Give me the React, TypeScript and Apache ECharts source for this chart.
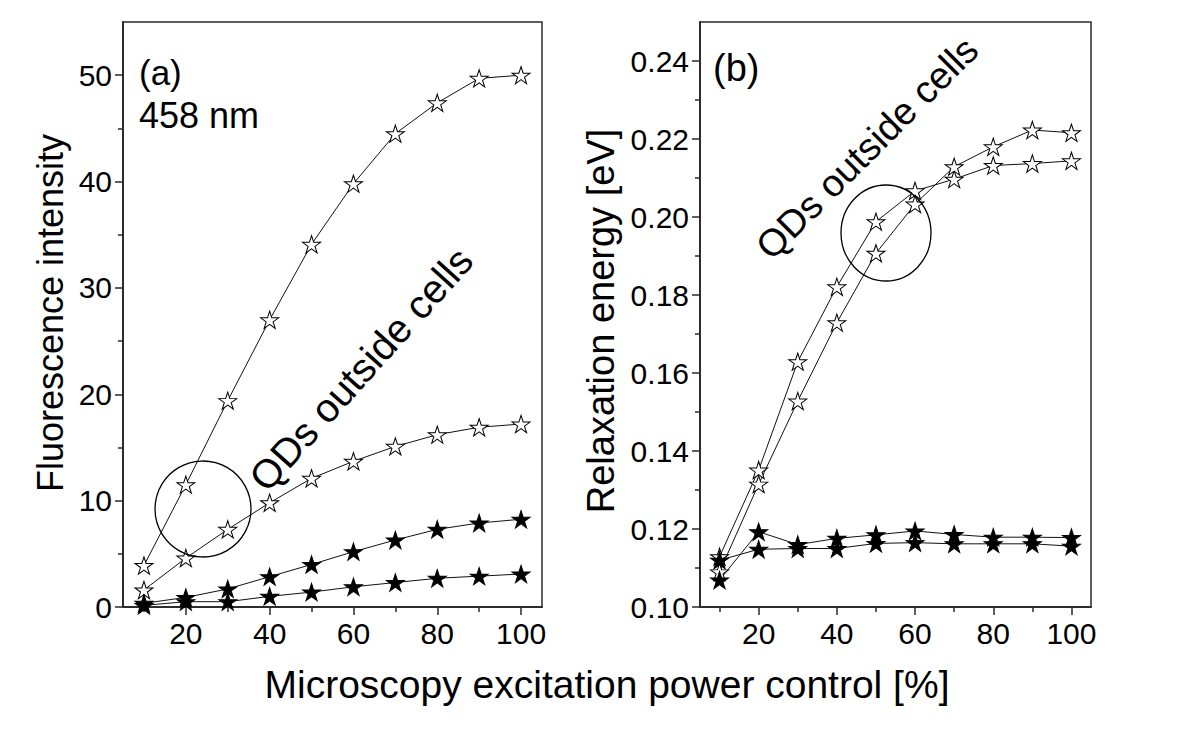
import React, { useEffect, useRef } from "react";
import * as echarts from "echarts";

// ---- data ----
const powerPct = [10, 20, 30, 40, 50, 60, 70, 80, 90, 100];

// (a) Fluorescence intensity
const fluorOpenHigh = [3.9, 11.5, 19.4, 27.0, 34.1, 39.8, 44.5, 47.4, 49.7, 50.0];
const fluorOpenLow = [1.6, 4.6, 7.3, 9.8, 12.1, 13.7, 15.1, 16.2, 16.9, 17.2];
const fluorFilledHigh = [0.35, 0.9, 1.7, 2.85, 4.0, 5.2, 6.3, 7.3, 7.9, 8.25];
const fluorFilledLow = [0.15, 0.5, 0.5, 1.0, 1.4, 1.9, 2.3, 2.7, 2.9, 3.1];

// (b) Relaxation energy [eV]
const relaxOpenA = [0.1129, 0.1351, 0.1629, 0.1821, 0.1988, 0.2067, 0.2097, 0.2132, 0.2137, 0.2144];
const relaxOpenB = [0.1090, 0.1315, 0.1528, 0.1729, 0.1907, 0.2033, 0.2129, 0.2180, 0.2223, 0.2216];
const relaxFilledA = [0.1069, 0.1193, 0.1160, 0.1176, 0.1185, 0.1195, 0.1186, 0.1179, 0.1179, 0.1178];
const relaxFilledB = [0.1120, 0.1148, 0.1150, 0.1150, 0.1163, 0.1165, 0.1162, 0.1162, 0.1162, 0.1156];

// ticks
const xMajorTicks = [20, 40, 60, 80, 100];
const xMinorTicks = [10, 30, 50, 70, 90];
const yaMajorTicks = [0, 10, 20, 30, 40, 50];
const yaMinorTicks = [5, 15, 25, 35, 45];
const ybMajorTicks = [0.10, 0.12, 0.14, 0.16, 0.18, 0.20, 0.22, 0.24];
const ybMinorTicks = [0.11, 0.13, 0.15, 0.17, 0.19, 0.21, 0.23];

const FONT = "'Liberation Sans', Arial, Helvetica, sans-serif";
const STAR =
  "path://M50,0 L61.23,34.55 L97.55,34.55 L68.17,55.9 L79.39,90.45 L50,69.1 L20.61,90.45 L31.83,55.9 L2.45,34.55 L38.77,34.55 Z";

const AXIS_COLOR = "#2a2a2a";

function pairs(ys: number[]) {
  return powerPct.map((x, i) => [x, ys[i]]);
}

function starSeries(name: string, ys: number[], filled: boolean, idx: number) {
  return {
    name,
    type: "line",
    xAxisIndex: idx * 2,
    yAxisIndex: idx * 2,
    data: pairs(ys),
    symbol: STAR,
    symbolSize: [18, 17.2],
    showSymbol: true,
    lineStyle: { color: "#111", width: 1 },
    itemStyle: {
      color: filled ? "#000" : "#fff",
      borderColor: "#000",
      borderWidth: 1,
    },
    z: 3,
  };
}

function xAxesFor(gridIndex: number) {
  return [
    {
      type: "value",
      gridIndex,
      position: "bottom",
      min: 5,
      max: 105,
      splitLine: { show: false },
      axisLine: { show: true, onZero: false, lineStyle: { color: AXIS_COLOR, width: 1.5 } },
      axisTick: { show: true, customValues: xMajorTicks, length: 8, lineStyle: { color: AXIS_COLOR, width: 1.5 } },
      axisLabel: {
        customValues: xMajorTicks,
        color: "#000",
        fontSize: 30,
        fontFamily: FONT,
        margin: 11,
      },
    },
    {
      type: "value",
      gridIndex,
      position: "bottom",
      offset: 0,
      min: 5,
      max: 105,
      splitLine: { show: false },
      axisLine: { show: true, onZero: false, lineStyle: { color: AXIS_COLOR, width: 1.5 } },
      axisTick: { show: true, customValues: xMinorTicks, length: 5, lineStyle: { color: AXIS_COLOR, width: 1.5 } },
      axisLabel: { show: false },
    },
  ];
}

function yAxesFor(gridIndex: number, min: number, max: number, major: number[], minor: number[], fmt: (v: number) => string) {
  return [
    {
      type: "value",
      gridIndex,
      position: "left",
      min,
      max,
      splitLine: { show: false },
      axisLine: { show: true, onZero: false, lineStyle: { color: AXIS_COLOR, width: 1.5 } },
      axisTick: { show: true, customValues: major, length: 8, lineStyle: { color: AXIS_COLOR, width: 1.5 } },
      axisLabel: {
        customValues: major,
        formatter: fmt,
        color: "#000",
        fontSize: 30,
        fontFamily: FONT,
        margin: 11,
      },
    },
    {
      type: "value",
      gridIndex,
      position: "left",
      offset: 0,
      min,
      max,
      splitLine: { show: false },
      axisLine: { show: true, onZero: false, lineStyle: { color: AXIS_COLOR, width: 1.5 } },
      axisTick: { show: true, customValues: minor, length: 5, lineStyle: { color: AXIS_COLOR, width: 1.5 } },
      axisLabel: { show: false },
    },
  ];
}

export default function App() {
  const ref = useRef<HTMLDivElement>(null);

  useEffect(() => {
    if (!ref.current) return;
    const chart = echarts.init(ref.current, undefined, { renderer: "svg" });

    const option = {
      animation: false,
      backgroundColor: "#fff",
      grid: [
        { left: 123, top: 22, width: 419, height: 585, show: true, borderColor: AXIS_COLOR, borderWidth: 1.5, backgroundColor: "transparent" },
        { left: 700, top: 22, width: 391, height: 585, show: true, borderColor: AXIS_COLOR, borderWidth: 1.5, backgroundColor: "transparent" },
      ],
      xAxis: [...xAxesFor(0), ...xAxesFor(1)],
      yAxis: [
        ...yAxesFor(0, 0, 55, yaMajorTicks, yaMinorTicks, (v: number) => String(Math.round(v))),
        ...yAxesFor(1, 0.1, 0.25, ybMajorTicks, ybMinorTicks, (v: number) => v.toFixed(2)),
      ],
      series: [
        starSeries("(a) open high", fluorOpenHigh, false, 0),
        starSeries("(a) open low", fluorOpenLow, false, 0),
        starSeries("(a) filled high", fluorFilledHigh, true, 0),
        starSeries("(a) filled low", fluorFilledLow, true, 0),
        starSeries("(b) open A", relaxOpenA, false, 1),
        starSeries("(b) open B", relaxOpenB, false, 1),
        starSeries("(b) filled A", relaxFilledA, true, 1),
        starSeries("(b) filled B", relaxFilledB, true, 1),
      ],
      graphic: [
        {
          type: "text",
          x: 50,
          y: 313,
          rotation: Math.PI / 2,
          style: { text: "Fluorescence intensity", font: `36px ${FONT}`, fill: "#000", align: "center", verticalAlign: "middle" },
        },
        {
          type: "text",
          x: 601,
          y: 321,
          rotation: Math.PI / 2,
          style: { text: "Relaxation energy [eV]", font: `38px ${FONT}`, fill: "#000", align: "center", verticalAlign: "middle" },
        },
        {
          type: "text",
          x: 607,
          y: 684,
          style: { text: "Microscopy excitation power control [%]", font: `39px ${FONT}`, fill: "#000", align: "center", verticalAlign: "middle" },
        },
        {
          type: "text",
          x: 139,
          y: 72,
          style: { text: "(a)", font: `35px ${FONT}`, fill: "#000", align: "left", verticalAlign: "middle" },
        },
        {
          type: "text",
          x: 139,
          y: 115,
          style: { text: "458 nm", font: `36px ${FONT}`, fill: "#000", align: "left", verticalAlign: "middle" },
        },
        {
          type: "text",
          x: 713,
          y: 68,
          style: { text: "(b)", font: `38px ${FONT}`, fill: "#000", align: "left", verticalAlign: "middle" },
        },
        {
          type: "text",
          x: 361,
          y: 369,
          rotation: (48 * Math.PI) / 180,
          style: { text: "QDs outside cells", font: `40px ${FONT}`, fill: "#000", align: "center", verticalAlign: "middle" },
        },
        {
          type: "text",
          x: 867,
          y: 148,
          rotation: (45 * Math.PI) / 180,
          style: { text: "QDs outside cells", font: `38px ${FONT}`, fill: "#000", align: "center", verticalAlign: "middle" },
        },
        {
          type: "circle",
          shape: { cx: 203, cy: 509, r: 48 },
          style: { fill: "none", stroke: "#000", lineWidth: 1.3 },
          z: 10,
        },
        {
          type: "ellipse",
          shape: { cx: 886, cy: 233, rx: 45, ry: 48 },
          style: { fill: "none", stroke: "#000", lineWidth: 1.3 },
          z: 10,
        },
      ],
    };

    chart.setOption(option as any);
    return () => chart.dispose();
  }, []);

  return (
    <div
      ref={ref}
      style={{ position: "fixed", left: 0, top: 0, width: 1200, height: 729, background: "#fff" }}
    />
  );
}
